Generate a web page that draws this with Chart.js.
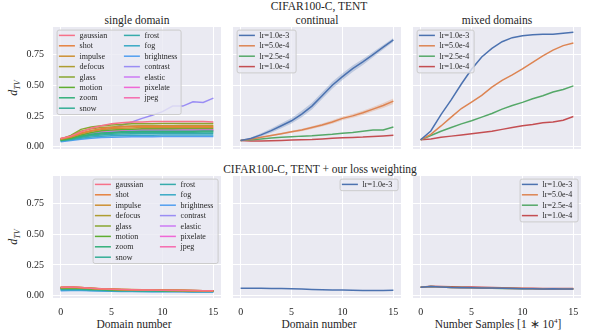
<!DOCTYPE html>
<html>
<head>
<meta charset="utf-8">
<script src="https://cdn.jsdelivr.net/npm/chart.js@4.4.1/dist/chart.umd.min.js"></script>
<style>
  body { margin: 0; background: #fff; }
  #fig { position: relative; width: 594px; height: 330px; overflow: hidden;
         font-family: 'Liberation Serif', serif; color: #262626; }
  #fig canvas { position: absolute; }
  .t { position: absolute; white-space: nowrap; transform: translate(-50%, -50%); font-size: 11.5px; }
  .yl { position: absolute; white-space: nowrap; transform: translate(-50%, -50%) rotate(-90deg); font-size: 12px; }
  sub { font-size: 8px; font-style: italic; }
  sup { font-size: 7px; }
</style>
</head>
<body>
<div id="fig">
  <div class="t" style="left:319px;top:6px">CIFAR100-C, TENT</div>
  <div class="t" style="left:137px;top:19.5px">single domain</div>
  <div class="t" style="left:317px;top:19.5px">continual</div>
  <div class="t" style="left:497px;top:19.5px">mixed domains</div>
  <div class="t" style="left:320px;top:168.5px">CIFAR100-C, TENT + our loss weighting</div>
  <div class="t" style="left:134px;top:323.5px">Domain number</div>
  <div class="t" style="left:319px;top:323.5px">Domain number</div>
  <div class="t" style="left:498px;top:323.5px">Number Samples [1 ∗ 10<sup>4</sup>]</div>
  <div class="yl" style="left:14px;top:88px"><i>d</i><sub>TV</sub></div>
  <div class="yl" style="left:14px;top:237px"><i>d</i><sub>TV</sub></div>
</div>
<script>
// ---- data ----
const steps = [0, 1, 2, 3, 4, 5, 6, 7, 8, 9, 10, 11, 12, 13, 14, 15];
const xTicks = [0, 5, 10, 15];
const yTicks = [0, 0.25, 0.5, 0.75];

const corruptions = ['gaussian', 'shot', 'impulse', 'defocus', 'glass', 'motion', 'zoom', 'snow',
  'frost', 'fog', 'brightness', 'contrast', 'elastic', 'pixelate', 'jpeg'];
const corrColors = ['#f77189', '#e5813e', '#cd9032', '#ae9d31', '#89a631', '#5fae31', '#33b07a', '#34ae96',
  '#36abab', '#38a9c5', '#529ff0', '#9a8df4', '#cc7af4', '#f068d6', '#f66bad'];

// single domain, TENT
const singleTent = [
  [0.065, 0.085, 0.12, 0.15, 0.17, 0.185, 0.195, 0.2, 0.2, 0.205, 0.205, 0.205, 0.205, 0.205, 0.205, 0.2],
  [0.065, 0.08, 0.11, 0.13, 0.145, 0.155, 0.16, 0.163, 0.165, 0.165, 0.165, 0.165, 0.165, 0.165, 0.165, 0.163],
  [0.06, 0.078, 0.105, 0.125, 0.138, 0.145, 0.15, 0.152, 0.155, 0.155, 0.155, 0.155, 0.155, 0.155, 0.155, 0.155],
  [0.06, 0.085, 0.125, 0.145, 0.155, 0.16, 0.165, 0.168, 0.17, 0.17, 0.17, 0.17, 0.172, 0.172, 0.172, 0.172],
  [0.06, 0.09, 0.14, 0.16, 0.17, 0.175, 0.18, 0.185, 0.185, 0.185, 0.188, 0.188, 0.188, 0.188, 0.188, 0.188],
  [0.055, 0.07, 0.095, 0.115, 0.128, 0.135, 0.14, 0.142, 0.145, 0.145, 0.145, 0.145, 0.147, 0.147, 0.147, 0.147],
  [0.05, 0.065, 0.085, 0.1, 0.11, 0.115, 0.12, 0.122, 0.125, 0.125, 0.125, 0.125, 0.125, 0.125, 0.127, 0.127],
  [0.05, 0.062, 0.08, 0.095, 0.103, 0.108, 0.112, 0.115, 0.115, 0.117, 0.117, 0.117, 0.117, 0.117, 0.118, 0.118],
  [0.05, 0.06, 0.075, 0.088, 0.095, 0.1, 0.103, 0.105, 0.107, 0.107, 0.108, 0.108, 0.108, 0.108, 0.108, 0.108],
  [0.045, 0.055, 0.068, 0.078, 0.085, 0.088, 0.09, 0.092, 0.093, 0.093, 0.094, 0.094, 0.094, 0.094, 0.094, 0.094],
  [0.04, 0.05, 0.06, 0.068, 0.073, 0.076, 0.078, 0.08, 0.08, 0.08, 0.081, 0.081, 0.081, 0.081, 0.081, 0.081],
  [0.055, 0.07, 0.09, 0.11, 0.13, 0.15, 0.175, 0.2, 0.23, 0.255, 0.285, 0.33, 0.33, 0.365, 0.36, 0.395],
  [0.055, 0.068, 0.09, 0.105, 0.115, 0.12, 0.125, 0.128, 0.13, 0.13, 0.132, 0.132, 0.132, 0.132, 0.133, 0.133],
  [0.06, 0.072, 0.095, 0.11, 0.12, 0.128, 0.133, 0.135, 0.137, 0.138, 0.138, 0.138, 0.138, 0.14, 0.14, 0.14],
  [0.06, 0.07, 0.09, 0.105, 0.115, 0.12, 0.125, 0.128, 0.13, 0.13, 0.13, 0.13, 0.13, 0.13, 0.13, 0.13]
];

// single domain, TENT + loss weighting
const singleWeighted = [
  [0.068, 0.07, 0.066, 0.06, 0.055, 0.052, 0.05, 0.048, 0.046, 0.045, 0.044, 0.043, 0.042, 0.041, 0.04, 0.04],
  [0.066, 0.069, 0.065, 0.059, 0.054, 0.051, 0.049, 0.047, 0.045, 0.044, 0.043, 0.042, 0.041, 0.04, 0.039, 0.039],
  [0.067, 0.07, 0.066, 0.06, 0.056, 0.053, 0.05, 0.049, 0.047, 0.046, 0.045, 0.044, 0.043, 0.041, 0.04, 0.04],
  [0.064, 0.066, 0.062, 0.057, 0.053, 0.05, 0.048, 0.046, 0.045, 0.044, 0.043, 0.042, 0.041, 0.04, 0.039, 0.038],
  [0.066, 0.068, 0.064, 0.059, 0.054, 0.051, 0.049, 0.048, 0.046, 0.045, 0.044, 0.043, 0.042, 0.041, 0.04, 0.039],
  [0.062, 0.064, 0.06, 0.055, 0.051, 0.048, 0.046, 0.045, 0.044, 0.043, 0.042, 0.041, 0.04, 0.039, 0.038, 0.037],
  [0.058, 0.06, 0.057, 0.053, 0.049, 0.046, 0.044, 0.043, 0.042, 0.041, 0.04, 0.039, 0.038, 0.037, 0.036, 0.036],
  [0.055, 0.057, 0.054, 0.05, 0.047, 0.044, 0.042, 0.041, 0.04, 0.039, 0.038, 0.037, 0.036, 0.036, 0.035, 0.035],
  [0.052, 0.054, 0.051, 0.048, 0.045, 0.042, 0.04, 0.039, 0.038, 0.037, 0.036, 0.036, 0.035, 0.034, 0.034, 0.033],
  [0.045, 0.047, 0.045, 0.042, 0.04, 0.038, 0.036, 0.035, 0.034, 0.033, 0.033, 0.032, 0.032, 0.031, 0.031, 0.03],
  [0.04, 0.042, 0.041, 0.039, 0.037, 0.035, 0.034, 0.033, 0.032, 0.031, 0.031, 0.03, 0.03, 0.029, 0.029, 0.028],
  [0.05, 0.052, 0.05, 0.047, 0.044, 0.041, 0.039, 0.038, 0.037, 0.036, 0.035, 0.035, 0.034, 0.034, 0.033, 0.033],
  [0.058, 0.06, 0.057, 0.053, 0.05, 0.047, 0.045, 0.044, 0.043, 0.042, 0.041, 0.04, 0.039, 0.038, 0.038, 0.037],
  [0.06, 0.062, 0.059, 0.055, 0.051, 0.049, 0.047, 0.046, 0.045, 0.044, 0.043, 0.042, 0.041, 0.04, 0.039, 0.038],
  [0.062, 0.064, 0.061, 0.057, 0.053, 0.05, 0.048, 0.047, 0.046, 0.045, 0.044, 0.043, 0.042, 0.041, 0.04, 0.039]
];

const lrLabels = ['lr=1.0e-3', 'lr=5.0e-4', 'lr=2.5e-4', 'lr=1.0e-4'];
const lrColors = ['#4C72B0', '#DD8452', '#55A868', '#C44E52'];

// continual, TENT (mean and spread)
const continualTent = [
  [0.05, 0.065, 0.095, 0.13, 0.17, 0.21, 0.265, 0.33, 0.415, 0.5, 0.57, 0.635, 0.69, 0.75, 0.81, 0.87],
  [0.05, 0.06, 0.075, 0.09, 0.105, 0.12, 0.135, 0.155, 0.175, 0.2, 0.23, 0.25, 0.275, 0.305, 0.335, 0.37],
  [0.05, 0.055, 0.062, 0.07, 0.075, 0.08, 0.085, 0.088, 0.095, 0.1, 0.108, 0.115, 0.125, 0.135, 0.135, 0.16],
  [0.05, 0.045, 0.046, 0.048, 0.05, 0.053, 0.056, 0.058, 0.062, 0.067, 0.072, 0.074, 0.077, 0.082, 0.087, 0.092]
];
const continualSpread = [
  [0.004, 0.008, 0.013, 0.017, 0.02, 0.023, 0.026, 0.028, 0.028, 0.028, 0.027, 0.026, 0.024, 0.022, 0.019, 0.015],
  [0.002, 0.003, 0.005, 0.006, 0.007, 0.008, 0.01, 0.011, 0.012, 0.014, 0.015, 0.016, 0.017, 0.018, 0.02, 0.022]
];

// mixed domains, TENT
const mixedTent = [
  [0.055, 0.127, 0.26, 0.38, 0.51, 0.63, 0.73, 0.8, 0.855, 0.888, 0.904, 0.912, 0.915, 0.915, 0.925, 0.933],
  [0.055, 0.1, 0.168, 0.24, 0.31, 0.363, 0.417, 0.485, 0.54, 0.585, 0.633, 0.687, 0.74, 0.787, 0.823, 0.845],
  [0.055, 0.09, 0.125, 0.155, 0.185, 0.21, 0.24, 0.27, 0.305, 0.335, 0.36, 0.39, 0.415, 0.445, 0.465, 0.495],
  [0.055, 0.062, 0.075, 0.085, 0.095, 0.105, 0.115, 0.125, 0.14, 0.155, 0.17, 0.18, 0.195, 0.2, 0.215, 0.245]
];

// continual, TENT + loss weighting (only lr=1.0e-3)
const continualWeighted = [0.06, 0.06, 0.059, 0.058, 0.057, 0.056, 0.053, 0.05, 0.047, 0.045, 0.045, 0.044, 0.042, 0.042, 0.042, 0.043];

// mixed domains, TENT + loss weighting
const mixedWeighted = [
  [0.068, 0.074, 0.07, 0.066, 0.064, 0.063, 0.062, 0.061, 0.06, 0.058, 0.056, 0.055, 0.054, 0.055, 0.054, 0.053],
  [0.068, 0.073, 0.069, 0.065, 0.063, 0.063, 0.062, 0.061, 0.06, 0.058, 0.057, 0.056, 0.053, 0.055, 0.054, 0.054],
  [0.068, 0.073, 0.07, 0.066, 0.065, 0.064, 0.062, 0.06, 0.058, 0.057, 0.056, 0.055, 0.054, 0.054, 0.054, 0.053],
  [0.068, 0.076, 0.073, 0.071, 0.07, 0.07, 0.067, 0.065, 0.063, 0.062, 0.06, 0.059, 0.057, 0.058, 0.057, 0.057]
];

// ---- drawing ----
const FONT = "'Liberation Serif', serif";
const YW = 40, XH = 24;

const bgPlugin = {
  id: 'axBg',
  beforeDraw(chart) {
    const a = chart.chartArea, ctx = chart.ctx;
    ctx.save();
    ctx.fillStyle = '#EAEAF2';
    ctx.fillRect(a.left, a.top, a.right - a.left, a.bottom - a.top);
    ctx.restore();
  }
};

// matplotlib-like legend box drawn inside the axes
const boxLegend = {
  id: 'boxLegend',
  afterDatasetsDraw(chart, args, o) {
    if (!o.items) return;
    const ctx = chart.ctx, a = chart.chartArea;
    const rows = Math.ceil(o.items.length / o.cols);
    const w = o.width, h = 11.6 + (rows - 1) * 10.4;
    const x = o.align === 'right' ? a.right - 3.4 - w : a.left + 3.6;
    const y = a.top + 2.6;
    ctx.save();
    ctx.beginPath();
    ctx.roundRect(x + 0.5, y + 0.5, w, h, 2);
    ctx.fillStyle = 'rgba(234,234,242,0.8)';
    ctx.fill();
    ctx.strokeStyle = '#cccccc';
    ctx.lineWidth = 1;
    ctx.stroke();
    ctx.font = '8px ' + FONT;
    ctx.textBaseline = 'middle';
    ctx.fillStyle = '#262626';
    o.items.forEach((it, k) => {
      const c = Math.floor(k / rows), r = k % rows;
      const lx = x + 2.3 + c * 65, ly = y + 5.8 + r * 10.4;
      ctx.beginPath();
      ctx.moveTo(lx, ly);
      ctx.lineTo(lx + 16, ly);
      ctx.strokeStyle = it.color;
      ctx.lineWidth = 1.5;
      ctx.stroke();
      ctx.fillText(it.label, lx + 20.7, ly + 0.5);
    });
    ctx.restore();
  }
};

function lineSet(label, values, color) {
  return {
    label: label,
    data: values.map((v, i) => ({ x: steps[i], y: v })),
    borderColor: color, borderWidth: 1.5, pointRadius: 0, tension: 0, fill: false
  };
}

function bandSets(mean, spread, color) {
  const lo = mean.map((v, i) => ({ x: steps[i], y: v - spread[i] }));
  const hi = mean.map((v, i) => ({ x: steps[i], y: v + spread[i] }));
  return [
    { data: lo, borderWidth: 0, pointRadius: 0, fill: false, borderColor: 'rgba(0,0,0,0)' },
    { data: hi, borderWidth: 0, pointRadius: 0, fill: '-1', borderColor: 'rgba(0,0,0,0)', backgroundColor: color }
  ];
}

function panel(left, top, datasets, opts) {
  const c = document.createElement('canvas');
  const w = 168 + YW, h = 122 + XH;
  c.width = w; c.height = h;
  c.style.left = (left - YW) + 'px';
  c.style.top = top + 'px';
  c.style.width = w + 'px';
  c.style.height = h + 'px';
  document.getElementById('fig').appendChild(c);
  new Chart(c.getContext('2d'), {
    type: 'line',
    data: { datasets: datasets },
    options: {
      responsive: false, animation: false, devicePixelRatio: 1,
      layout: { padding: 0, autoPadding: false },
      plugins: { legend: { display: false }, tooltip: { enabled: false }, boxLegend: opts.legend },
      scales: {
        x: {
          type: 'linear', min: -0.75, max: 15.75,
          grid: { color: '#ffffff', lineWidth: 1, drawTicks: false },
          border: { display: false },
          ticks: { display: opts.xLabels, padding: 8, color: '#262626', font: { family: FONT, size: 10 },
                   callback: v => String(v) },
          afterBuildTicks: s => { s.ticks = xTicks.map(v => ({ value: v })); },
          afterFit: s => { s.height = XH; s.paddingLeft = 0; s.paddingRight = 0; }
        },
        y: {
          min: -0.02, max: 0.975,
          grid: { color: '#ffffff', lineWidth: 1, drawTicks: false },
          border: { display: false },
          ticks: { display: opts.yLabels, padding: 9, color: '#262626', font: { family: FONT, size: 10 },
                   callback: v => v.toFixed(2) },
          afterBuildTicks: s => { s.ticks = yTicks.map(v => ({ value: v })); },
          afterFit: s => { s.width = YW; s.paddingTop = 0; s.paddingBottom = 0; }
        }
      }
    },
    plugins: [bgPlugin, boxLegend]
  });
}

const corrItems = corruptions.map((n, i) => ({ label: n, color: corrColors[i] }));
const lrItems = lrLabels.map((n, i) => ({ label: n, color: lrColors[i] }));

// top row
panel(53, 27, singleTent.map((v, i) => lineSet(corruptions[i], v, corrColors[i])),
  { xLabels: false, yLabels: true, legend: { items: corrItems, cols: 2, width: 124, align: 'left' } });

panel(233, 27, [
    ...bandSets(continualTent[0], continualSpread[0], 'rgba(76,114,176,0.28)'),
    ...bandSets(continualTent[1], continualSpread[1], 'rgba(221,132,82,0.28)'),
    ...continualTent.map((v, i) => lineSet(lrLabels[i], v, lrColors[i]))
  ],
  { xLabels: false, yLabels: false, legend: { items: lrItems, cols: 1, width: 59, align: 'left' } });

panel(413, 27, mixedTent.map((v, i) => lineSet(lrLabels[i], v, lrColors[i])),
  { xLabels: false, yLabels: false, legend: { items: lrItems, cols: 1, width: 57, align: 'left' } });

// bottom row
panel(53, 176, singleWeighted.map((v, i) => lineSet(corruptions[i], v, corrColors[i])),
  { xLabels: true, yLabels: true, legend: { items: corrItems, cols: 2, width: 125, align: 'right' } });

panel(233, 176, [lineSet(lrLabels[0], continualWeighted, lrColors[0])],
  { xLabels: true, yLabels: false, legend: { items: lrItems.slice(0, 1), cols: 1, width: 58, align: 'right' } });

panel(413, 176, mixedWeighted.map((v, i) => lineSet(lrLabels[i], v, lrColors[i])),
  { xLabels: true, yLabels: false, legend: { items: lrItems, cols: 1, width: 58, align: 'right' } });
</script>
</body>
</html>
